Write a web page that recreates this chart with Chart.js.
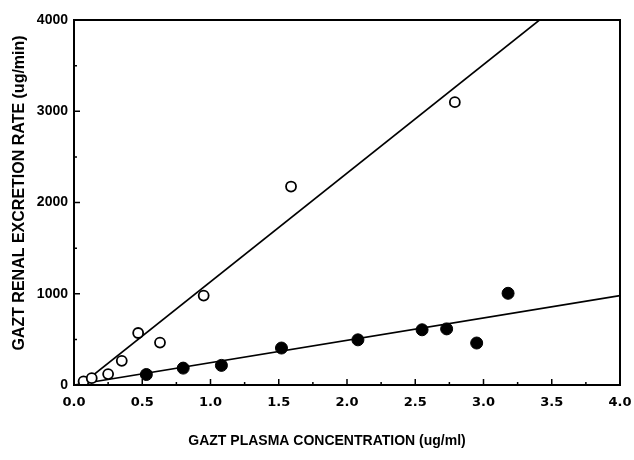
<!DOCTYPE html>
<html>
<head>
<meta charset="utf-8">
<script src="https://cdn.jsdelivr.net/npm/chart.js@4.4.0/dist/chart.umd.min.js"></script>
<style>
  html, body { margin: 0; padding: 0; background: #fff; }
  #wrap { width: 634px; height: 460px; }
</style>
</head>
<body>
<div id="wrap"><canvas id="chart" width="634" height="460"></canvas></div>
<script>
// Open circles
const openX = [0.07, 0.13, 0.25, 0.35, 0.47, 0.63, 0.95, 1.59, 2.79];
const openY = [40, 75, 120, 265, 570, 465, 980, 2175, 3100];

// Filled circles
const filledX = [0.53, 0.80, 1.08, 1.52, 2.08, 2.55, 2.73, 2.95, 3.18];
const filledY = [115, 185, 215, 405, 495, 605, 615, 460, 1005];

// Fitted lines (end points)
const openFitX = [0.05, 3.41];
const openFitY = [0, 4000];
const filledFitX = [0, 4.0];
const filledFitY = [0, 980];

// Axis titles
const xTitle = 'GAZT PLASMA CONCENTRATION (ug/ml)';
const yTitle = 'GAZT RENAL EXCRETION RATE (ug/min)';

function toPoints(xs, ys) {
    return xs.map((x, i) => ({ x: x, y: ys[i] }));
}

// Frame, inward tick marks and axis titles
const framePlugin = {
    id: 'frame',
    afterDatasetsDraw(chart) {
        const { ctx, chartArea: a, scales: { x, y } } = chart;
        ctx.save();
        ctx.strokeStyle = '#000';
        ctx.lineWidth = 1.5;
        ctx.beginPath();
        x.ticks.forEach(t => {
            const px = x.getPixelForValue(t.value);
            const len = t.value % 0.5 === 0 ? 6 : 3;
            ctx.moveTo(px, a.bottom);
            ctx.lineTo(px, a.bottom - len);
        });
        y.ticks.forEach(t => {
            const py = y.getPixelForValue(t.value);
            const len = t.value % 1000 === 0 ? 6 : 3;
            ctx.moveTo(a.left, py);
            ctx.lineTo(a.left + len, py);
        });
        ctx.stroke();
        ctx.lineWidth = 2;
        ctx.strokeRect(a.left, a.top, a.right - a.left, a.bottom - a.top);

        ctx.fillStyle = '#000';
        ctx.font = 'bold 14px "Liberation Sans", Arial, sans-serif';
        ctx.textAlign = 'center';
        ctx.textBaseline = 'middle';
        ctx.fillText(xTitle, 327, 441);
        ctx.translate(20, 193);
        ctx.rotate(-Math.PI / 2);
        ctx.font = 'bold 16px "Liberation Sans", Arial, sans-serif';
        ctx.fillText(yTitle, 0, 0);
        ctx.restore();
    }
};

const ctx = document.getElementById('chart').getContext('2d');
const chart = new Chart(ctx, {
    type: 'scatter',
    data: {
        datasets: [{
            label: 'open',
            data: toPoints(openX, openY),
            pointStyle: 'circle',
            pointRadius: 5,
            pointBackgroundColor: '#fff',
            pointBorderColor: '#000',
            pointBorderWidth: 1.8,
            order: 1
        }, {
            label: 'filled',
            data: toPoints(filledX, filledY),
            pointStyle: 'circle',
            pointRadius: 6,
            pointBackgroundColor: '#000',
            pointBorderColor: '#000',
            pointBorderWidth: 1,
            order: 1
        }, {
            type: 'line',
            label: 'open fit',
            data: toPoints(openFitX, openFitY),
            borderColor: '#000',
            borderWidth: 1.6,
            pointRadius: 0,
            fill: false,
            order: 2
        }, {
            type: 'line',
            label: 'filled fit',
            data: toPoints(filledFitX, filledFitY),
            borderColor: '#000',
            borderWidth: 1.6,
            pointRadius: 0,
            fill: false,
            order: 2
        }]
    },
    options: {
        responsive: false,
        animation: false,
        devicePixelRatio: 1,
        layout: {
            padding: { top: 20, right: 14, left: 0, bottom: 0 }
        },
        plugins: {
            legend: { display: false },
            tooltip: { enabled: false }
        },
        scales: {
            x: {
                type: 'linear',
                min: 0,
                max: 4,
                afterFit: scale => {
                    scale.height = 75;
                    scale.paddingLeft = 0;
                    scale.paddingRight = 0;
                },
                grid: { display: false, drawTicks: false },
                border: { display: false },
                ticks: {
                    stepSize: 0.25,
                    autoSkip: false,
                    maxRotation: 0,
                    padding: 10,
                    color: '#000',
                    font: { family: '"DejaVu Sans"', size: 13, weight: 'bold' },
                    callback: value => value % 0.5 === 0 ? value.toFixed(1) : ''
                }
            },
            y: {
                type: 'linear',
                min: 0,
                max: 4000,
                afterFit: scale => {
                    scale.width = 74;
                    scale.paddingTop = 0;
                    scale.paddingBottom = 0;
                },
                grid: { display: false, drawTicks: false },
                border: { display: false },
                ticks: {
                    stepSize: 500,
                    autoSkip: false,
                    padding: 6,
                    color: '#000',
                    font: { family: '"Liberation Sans"', size: 14, weight: 'bold' },
                    callback: value => value % 1000 === 0 ? String(value) : ''
                }
            }
        }
    },
    plugins: [framePlugin]
});
</script>
</body>
</html>
